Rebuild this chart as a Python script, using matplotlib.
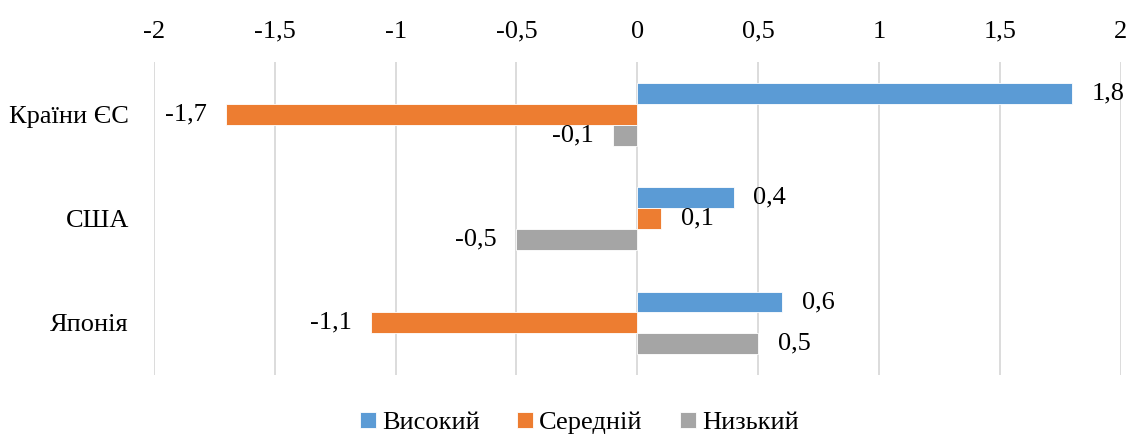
import matplotlib.pyplot as plt
import numpy as np

# data
categories = ['Країни ЄС', 'США', 'Японія']
series_names = ['Високий', 'Середній', 'Низький']
high = [1.8, 0.4, 0.6]
medium = [-1.7, 0.1, -1.1]
low = [-0.1, -0.5, 0.5]
colors = ['#5B9BD5', '#ED7D31', '#A5A5A5']
xticks = [-2, -1.5, -1, -0.5, 0, 0.5, 1, 1.5, 2]

plt.rcParams['font.family'] = ['Liberation Serif', 'DejaVu Serif']
plt.rcParams['font.size'] = 19

fig = plt.figure(figsize=(11.31, 4.38), dpi=100)
ax = fig.add_axes([0.136, 0.144, 0.855, 0.714])

y = np.arange(len(categories))
bh = 0.2
series = [high, medium, low]
for k, (vals, name, col) in enumerate(zip(series, series_names, colors)):
    pos = y + (k - 1) * bh
    ax.barh(pos, vals, height=bh, color=col, edgecolor='white', linewidth=0.6,
            label=name, zorder=3)
    for p, v in zip(pos, vals):
        txt = ('%g' % v).replace('.', ',')
        if v >= 0:
            ax.annotate(txt, (v, p), xytext=(14, 0), textcoords='offset points',
                        ha='left', va='center', fontsize=19)
        else:
            ax.annotate(txt, (v, p), xytext=(-14, 0), textcoords='offset points',
                        ha='right', va='center', fontsize=19)

ax.set_xlim(-2, 2)
ax.set_ylim(len(categories) - 0.5, -0.5)
ax.set_xticks(xticks)
ax.set_xticklabels([('%g' % t).replace('.', ',') for t in xticks], fontsize=19)
ax.xaxis.tick_top()
ax.set_yticks(y)
ax.set_yticklabels(categories, fontsize=19)
ax.tick_params(length=0, pad=18)
ax.tick_params(axis='x', pad=14)
ax.grid(axis='x', color='#d9d9d9', linewidth=1.3, zorder=0)
for s in ax.spines.values():
    s.set_visible(False)

ax.legend(loc='upper center', bbox_to_anchor=(0.44, -0.058), ncol=3, frameon=False,
          handlelength=0.6, handleheight=0.6, handletextpad=0.25, columnspacing=1.4,
          borderpad=0.2, fontsize=19)

fig.savefig('out.png', dpi=100)
